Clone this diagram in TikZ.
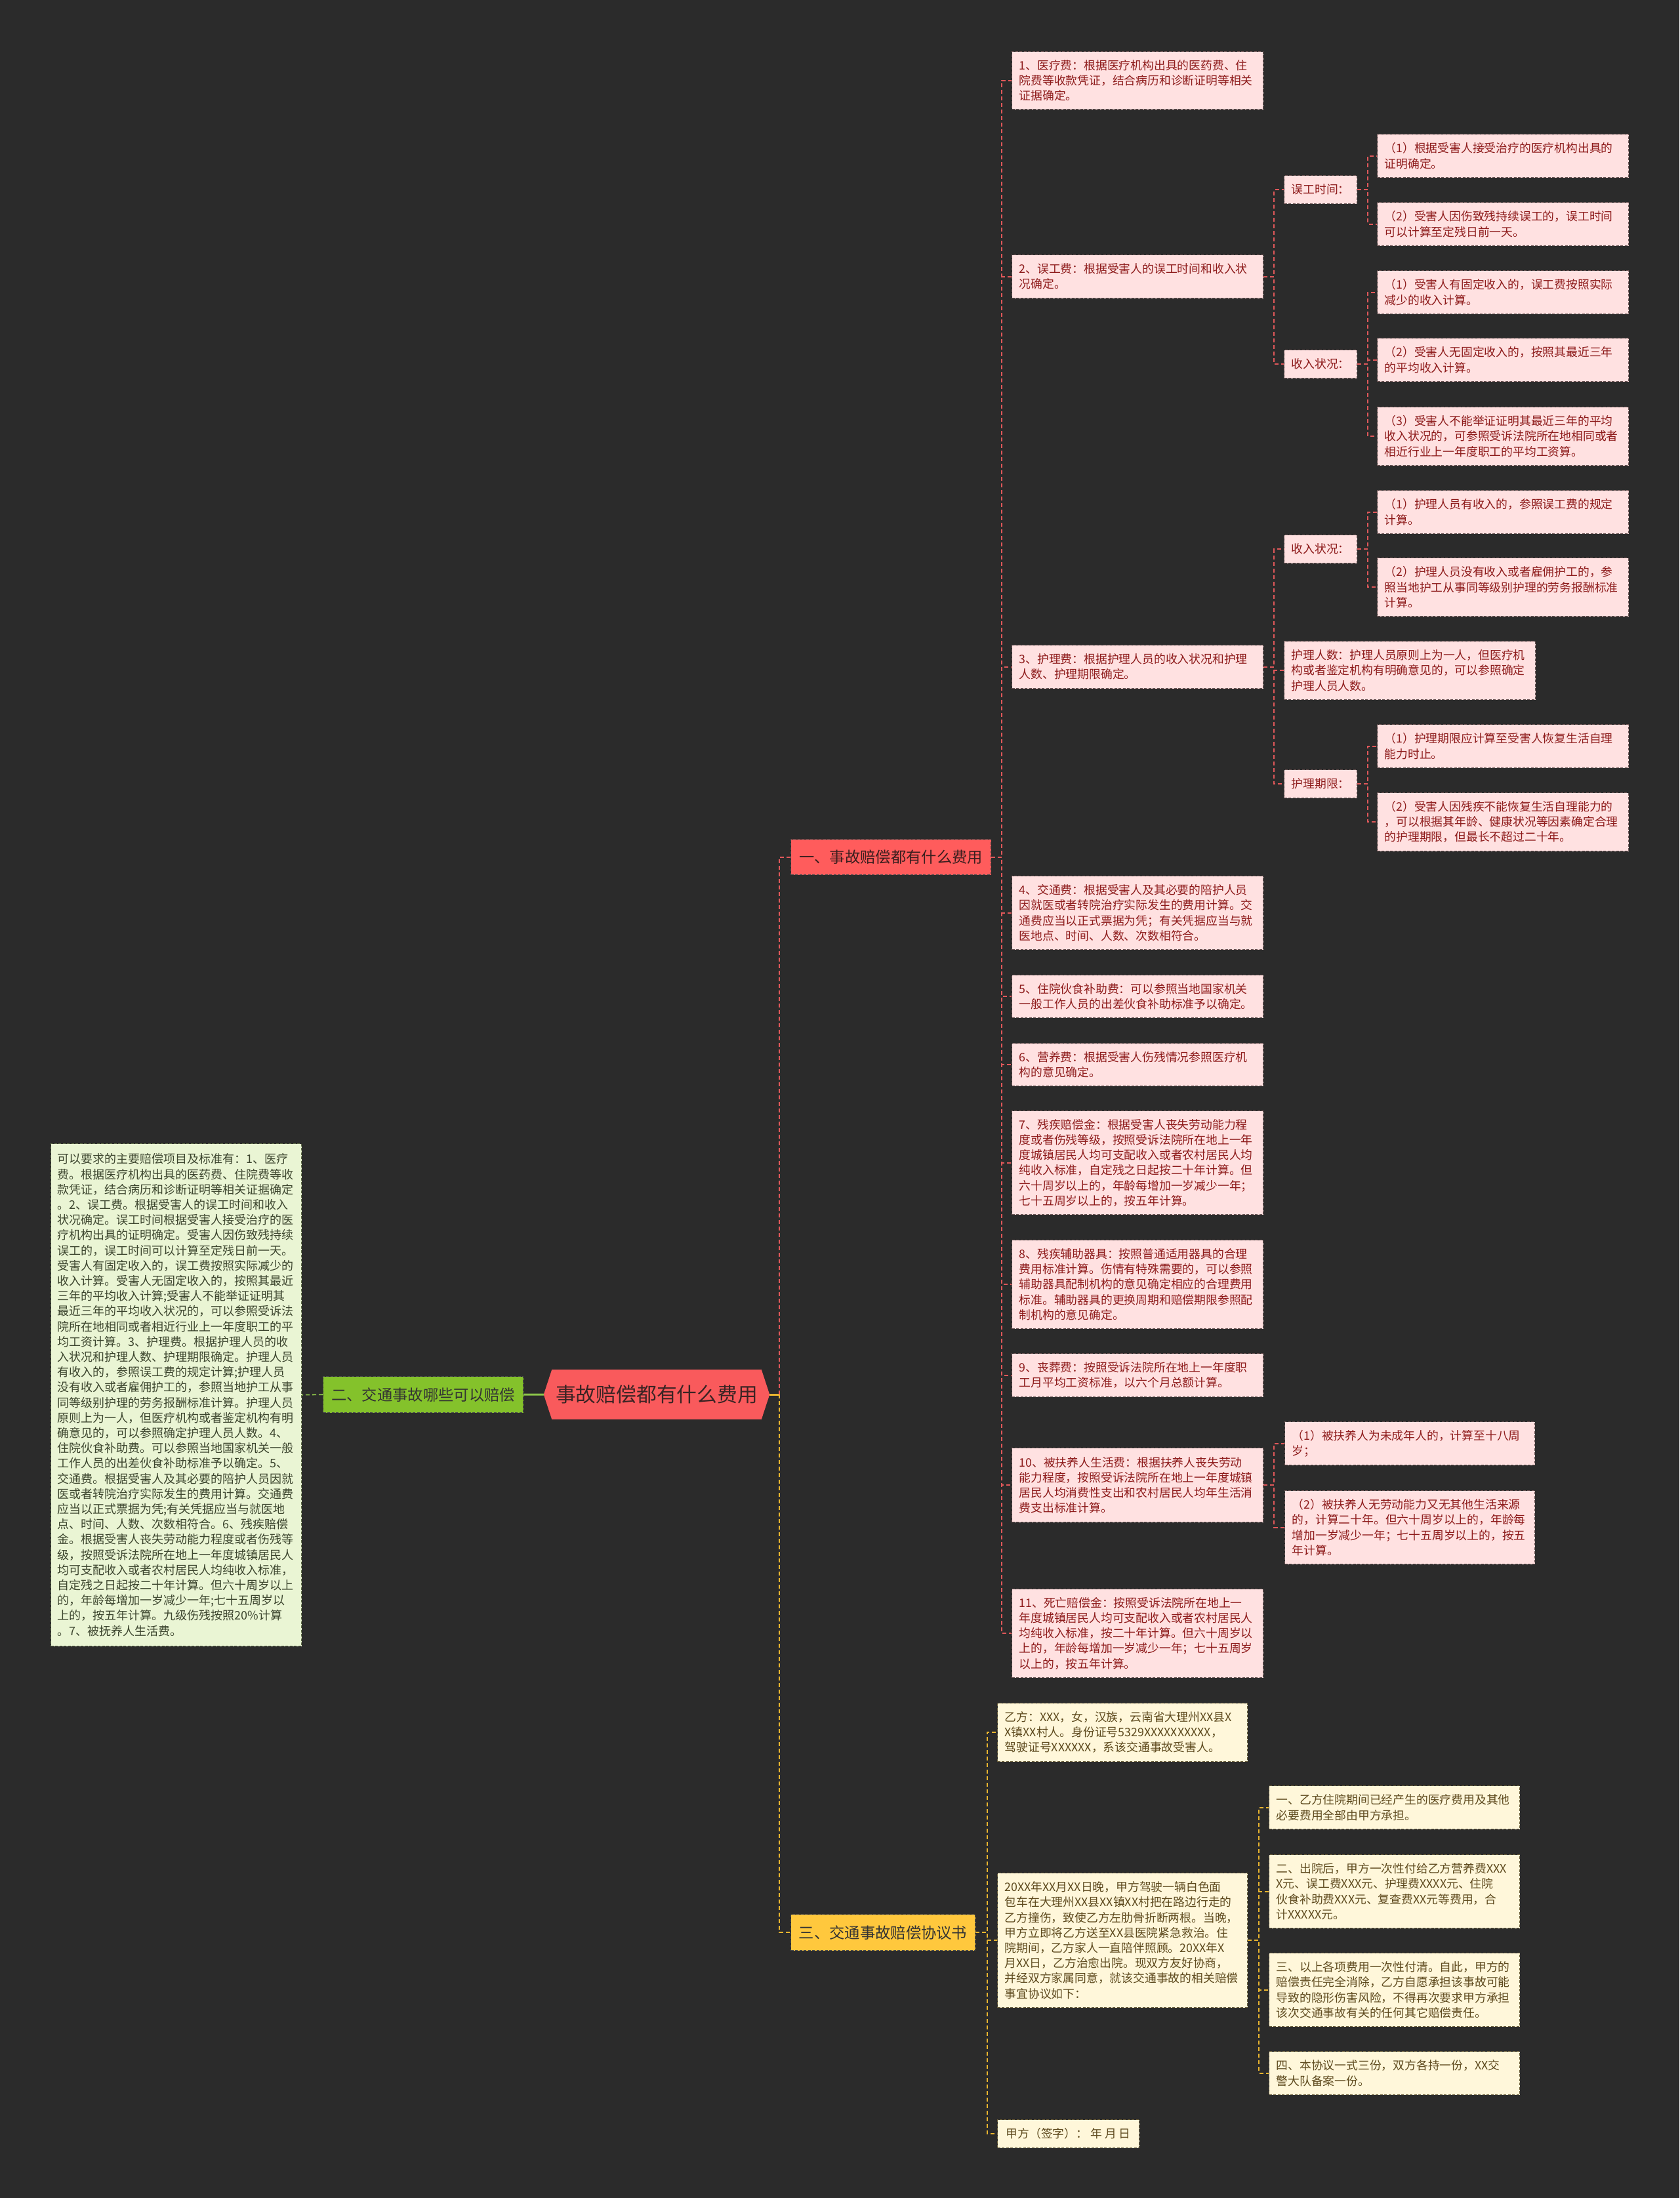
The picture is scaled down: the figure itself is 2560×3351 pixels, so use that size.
\documentclass[tikz,border=0pt]{standalone}
\usepackage{fontspec}
\setmainfont{Noto Sans CJK SC}
\definecolor{bg}{HTML}{2B2B2B}
\definecolor{pinkfill}{HTML}{FFE1E1}
\definecolor{pinkline}{HTML}{6E5555}
\definecolor{pinktext}{HTML}{8E1B1B}
\definecolor{redline}{HTML}{E0585A}
\definecolor{b1fill}{HTML}{FF5C5C}
\definecolor{mainfill}{HTML}{F95A5C}
\definecolor{maintext}{HTML}{3B2424}
\definecolor{greenfill}{HTML}{84C22B}
\definecolor{greenline}{HTML}{8BC34A}
\definecolor{ltfill}{HTML}{EAF5D4}
\definecolor{ltline}{HTML}{5E6B48}
\definecolor{lttext}{HTML}{3C452E}
\definecolor{ylwfill}{HTML}{FFC83D}
\definecolor{ylwline}{HTML}{E9B52F}
\definecolor{creamfill}{HTML}{FFF7DA}
\definecolor{creamline}{HTML}{6B5E3A}
\definecolor{creamtext}{HTML}{5E4A1E}
\definecolor{brtext}{HTML}{3A1E1E}
\begin{document}
\begin{tikzpicture}[x=1pt,y=-1pt,
  box/.style={anchor=north west, align=left, inner xsep=11pt, inner ysep=4pt, line width=1.2pt, dash pattern=on 4pt off 2.5pt, font=\fontsize{17.8}{23.2}\selectfont},
  pk/.style 2 args={box, draw=pinkline, fill=pinkfill, text=pinktext, minimum width=#1pt, text width=#1pt-22pt, minimum height=#2pt},
  ck/.style 2 args={box, draw=creamline, fill=creamfill, text=creamtext, minimum width=#1pt, text width=#1pt-22pt, minimum height=#2pt},
  brnode/.style={anchor=north west, inner xsep=12pt, inner ysep=2pt, font=\fontsize{23.3}{28}\selectfont, draw=black!70, line width=1.2pt, dash pattern=on 4pt off 2.5pt},
  rdash/.style={draw=redline, line width=1.8pt, dash pattern=on 6pt off 4pt},
  ydash/.style={draw=ylwline, line width=1.8pt, dash pattern=on 6pt off 4pt},
  gdash/.style={draw=greenline, line width=1.8pt, dash pattern=on 6pt off 4pt}
]
\useasboundingbox (0,0) rectangle (2560,3351);
\fill[bg] (0,0) rectangle (2560,3351);

% main node
\node[fill=mainfill, text=maintext, minimum width=320pt, minimum height=76pt, inner sep=0pt, font=\fontsize{30.8}{36}\selectfont] (main) at (1001,2126) {事故赔偿都有什么费用};
\fill[mainfill] ([xshift=-0.5pt]main.north east) -- ([xshift=12pt]main.east) -- ([xshift=-0.5pt]main.south east) -- cycle;
\fill[mainfill] ([xshift=0.5pt]main.north west) -- ([xshift=-12pt]main.west) -- ([xshift=0.5pt]main.south west) -- cycle;

% first level
\node[brnode, fill=b1fill, text=brtext, minimum width=305pt, minimum height=54pt] (b1) at (1205,1279) {一、事故赔偿都有什么费用};
\node[brnode, fill=greenfill, text=black!80, minimum width=305pt, minimum height=55pt] (b2) at (492,2098) {二、交通事故哪些可以赔偿};
\node[brnode, fill=ylwfill, text=black!80, minimum width=281pt, minimum height=55pt] (b3) at (1205,2918) {三、交通事故赔偿协议书};

% left text
\node[box, draw=ltline, fill=ltfill, text=lttext, minimum width=382pt, text width=362pt, minimum height=766pt, inner xsep=10pt, font=\fontsize{18}{23.2}\selectfont] (lt) at (77,1743) {可以要求的主要赔偿项目及标准有：1、医疗\\费。根据医疗机构出具的医药费、住院费等收\\款凭证，结合病历和诊断证明等相关证据确定\\。2、误工费。根据受害人的误工时间和收入\\状况确定。误工时间根据受害人接受治疗的医\\疗机构出具的证明确定。受害人因伤致残持续\\误工的，误工时间可以计算至定残日前一天。\\受害人有固定收入的，误工费按照实际减少的\\收入计算。受害人无固定收入的，按照其最近\\三年的平均收入计算;受害人不能举证证明其\\最近三年的平均收入状况的，可以参照受诉法\\院所在地相同或者相近行业上一年度职工的平\\均工资计算。3、护理费。根据护理人员的收\\入状况和护理人数、护理期限确定。护理人员\\有收入的，参照误工费的规定计算;护理人员\\没有收入或者雇佣护工的，参照当地护工从事\\同等级别护理的劳务报酬标准计算。护理人员\\原则上为一人，但医疗机构或者鉴定机构有明\\确意见的，可以参照确定护理人员人数。4、\\住院伙食补助费。可以参照当地国家机关一般\\工作人员的出差伙食补助标准予以确定。5、\\交通费。根据受害人及其必要的陪护人员因就\\医或者转院治疗实际发生的费用计算。交通费\\应当以正式票据为凭;有关凭据应当与就医地\\点、时间、人数、次数相符合。6、残疾赔偿\\金。根据受害人丧失劳动能力程度或者伤残等\\级，按照受诉法院所在地上一年度城镇居民人\\均可支配收入或者农村居民人均纯收入标准，\\自定残之日起按二十年计算。但六十周岁以上\\的，年龄每增加一岁减少一年;七十五周岁以\\上的，按五年计算。九级伤残按照20\%计算\\。7、被抚养人生活费。};

% level 2 (red branch)
\node[pk={383}{88}] (c1) at (1542,78) {1、医疗费：根据医疗机构出具的医药费、住\\院费等收款凭证，结合病历和诊断证明等相关\\证据确定。};
\node[pk={383}{66}] (c2) at (1542,388) {2、误工费：根据受害人的误工时间和收入状\\况确定。};
\node[pk={383}{66}] (c3) at (1542,983) {3、护理费：根据护理人员的收入状况和护理\\人数、护理期限确定。};
\node[pk={383}{112}] (c4) at (1542,1335) {4、交通费：根据受害人及其必要的陪护人员\\因就医或者转院治疗实际发生的费用计算。交\\通费应当以正式票据为凭；有关凭据应当与就\\医地点、时间、人数、次数相符合。};
\node[pk={383}{65}] (c5) at (1542,1486) {5、住院伙食补助费：可以参照当地国家机关\\一般工作人员的出差伙食补助标准予以确定。};
\node[pk={383}{65}] (c6) at (1542,1590) {6、营养费：根据受害人伤残情况参照医疗机\\构的意见确定。};
\node[pk={383}{158}] (c7) at (1542,1693) {7、残疾赔偿金：根据受害人丧失劳动能力程\\度或者伤残等级，按照受诉法院所在地上一年\\度城镇居民人均可支配收入或者农村居民人均\\纯收入标准，自定残之日起按二十年计算。但\\六十周岁以上的，年龄每增加一岁减少一年；\\七十五周岁以上的，按五年计算。};
\node[pk={383}{135}] (c8) at (1542,1890) {8、残疾辅助器具：按照普通适用器具的合理\\费用标准计算。伤情有特殊需要的，可以参照\\辅助器具配制机构的意见确定相应的合理费用\\标准。辅助器具的更换周期和赔偿期限参照配\\制机构的意见确定。};
\node[pk={383}{66}] (c9) at (1542,2063) {9、丧葬费：按照受诉法院所在地上一年度职\\工月平均工资标准，以六个月总额计算。};
\node[pk={383}{113}] (c10) at (1542,2207) {10、被扶养人生活费：根据扶养人丧失劳动\\能力程度，按照受诉法院所在地上一年度城镇\\居民人均消费性支出和农村居民人均年生活消\\费支出标准计算。};
\node[pk={383}{135}] (c11) at (1542,2422) {11、死亡赔偿金：按照受诉法院所在地上一\\年度城镇居民人均可支配收入或者农村居民人\\均纯收入标准，按二十年计算。但六十周岁以\\上的，年龄每增加一岁减少一年；七十五周岁\\以上的，按五年计算。};

% level 3
\node[pk={111}{43}] (m1) at (1957,267) {误工时间：};
\node[pk={111}{43}] (m2) at (1957,533) {收入状况：};
\node[pk={111}{43}] (m3) at (1957,815) {收入状况：};
\node[pk={383}{89}] (m4) at (1957,977) {护理人数：护理人员原则上为一人，但医疗机\\构或者鉴定机构有明确意见的，可以参照确定\\护理人员人数。};
\node[pk={111}{43}] (m5) at (1957,1173) {护理期限：};
\node[pk={381}{66}] (t1) at (1958,2167) {（1）被扶养人为未成年人的，计算至十八周\\岁；};
\node[pk={381}{112}] (t2) at (1958,2272) {（2）被扶养人无劳动能力又无其他生活来源\\的，计算二十年。但六十周岁以上的，年龄每\\增加一岁减少一年；七十五周岁以上的，按五\\年计算。};

% level 4
\node[pk={383}{66}] (s1) at (2099,204) {（1）根据受害人接受治疗的医疗机构出具的\\证明确定。};
\node[pk={383}{66}] (s2) at (2099,308) {（2）受害人因伤致残持续误工的，误工时间\\可以计算至定残日前一天。};
\node[pk={383}{66}] (s3) at (2099,412) {（1）受害人有固定收入的，误工费按照实际\\减少的收入计算。};
\node[pk={383}{66}] (s4) at (2099,515) {（2）受害人无固定收入的，按照其最近三年\\的平均收入计算。};
\node[pk={383}{89}] (s5) at (2099,620) {（3）受害人不能举证证明其最近三年的平均\\收入状况的，可参照受诉法院所在地相同或者\\相近行业上一年度职工的平均工资算。};
\node[pk={383}{66}] (s6) at (2099,747) {（1）护理人员有收入的，参照误工费的规定\\计算。};
\node[pk={383}{89}] (s7) at (2099,850) {（2）护理人员没有收入或者雇佣护工的，参\\照当地护工从事同等级别护理的劳务报酬标准\\计算。};
\node[pk={383}{66}] (s8) at (2099,1104) {（1）护理期限应计算至受害人恢复生活自理\\能力时止。};
\node[pk={383}{89}] (s9) at (2099,1208) {（2）受害人因残疾不能恢复生活自理能力的\\，可以根据其年龄、健康状况等因素确定合理\\的护理期限，但最长不超过二十年。};

% yellow branch
\node[ck={381}{89}] (y1) at (1520,2596) {乙方：XXX，女，汉族，云南省大理州XX县X\\X镇XX村人。身份证号5329XXXXXXXXXX，\\驾驶证号XXXXXX，系该交通事故受害人。};
\node[ck={381}{205}] (y2) at (1520,2855) {20XX年XX月XX日晚，甲方驾驶一辆白色面\\包车在大理州XX县XX镇XX村把在路边行走的\\乙方撞伤，致使乙方左肋骨折断两根。当晚，\\甲方立即将乙方送至XX县医院紧急救治。住\\院期间，乙方家人一直陪伴照顾。20XX年X\\月XX日，乙方治愈出院。现双方友好协商，\\并经双方家属同意，就该交通事故的相关赔偿\\事宜协议如下：};
\node[box, draw=creamline, fill=creamfill, text=creamtext, minimum width=216pt, minimum height=43pt] (y3) at (1520,3231) {甲方（签字）：\ 年 月 日};
\node[ck={382}{66}] (z1) at (1934,2722) {一、乙方住院期间已经产生的医疗费用及其他\\必要费用全部由甲方承担。};
\node[ck={382}{112}] (z2) at (1934,2827) {二、出院后，甲方一次性付给乙方营养费XXX\\X元、误工费XXX元、护理费XXXX元、住院\\伙食补助费XXX元、复查费XX元等费用，合\\计XXXXX元。};
\node[ck={382}{112}] (z3) at (1934,2977) {三、以上各项费用一次性付清。自此，甲方的\\赔偿责任完全消除，乙方自愿承担该事故可能\\导致的隐形伤害风险，不得再次要求甲方承担\\该次交通事故有关的任何其它赔偿责任。};
\node[ck={382}{66}] (z4) at (1934,3127) {四、本协议一式三份，双方各持一份，XX交\\警大队备案一份。};

% connectors
\coordinate (jm) at (1188,2126);
\draw[draw=ylwline, line width=3pt] ([xshift=12pt]main.east) -- (jm);
\draw[rdash] (jm) |- (b1.west);
\draw[ydash] (jm) |- (b3.west);
\draw[draw=greenline, line width=3pt] ([xshift=-12pt]main.west) -- (b2.east);
\draw[gdash] (b2.west) -- (lt.east);

\foreach \c in {c1,c2,c3,c4,c5,c6,c7,c8,c9,c10,c11}
  \draw[rdash] (b1.east) -- ++(16,0) |- (\c.west);
\foreach \c in {m1,m2}
  \draw[rdash] (c2.east) -- ++(16,0) |- (\c.west);
\foreach \c in {s1,s2}
  \draw[rdash] (m1.east) -- ++(16,0) |- (\c.west);
\foreach \c in {s3,s4,s5}
  \draw[rdash] (m2.east) -- ++(16,0) |- (\c.west);
\foreach \c in {m3,m4,m5}
  \draw[rdash] (c3.east) -- ++(16,0) |- (\c.west);
\foreach \c in {s6,s7}
  \draw[rdash] (m3.east) -- ++(16,0) |- (\c.west);
\foreach \c in {s8,s9}
  \draw[rdash] (m5.east) -- ++(16,0) |- (\c.west);
\foreach \c in {t1,t2}
  \draw[rdash] (c10.east) -- ++(16,0) |- (\c.west);
\foreach \c in {y1,y2,y3}
  \draw[ydash] (b3.east) -- ++(18,0) |- (\c.west);
\foreach \c in {z1,z2,z3,z4}
  \draw[ydash] (y2.east) -- ++(17,0) |- (\c.west);
\end{tikzpicture}
\end{document}
